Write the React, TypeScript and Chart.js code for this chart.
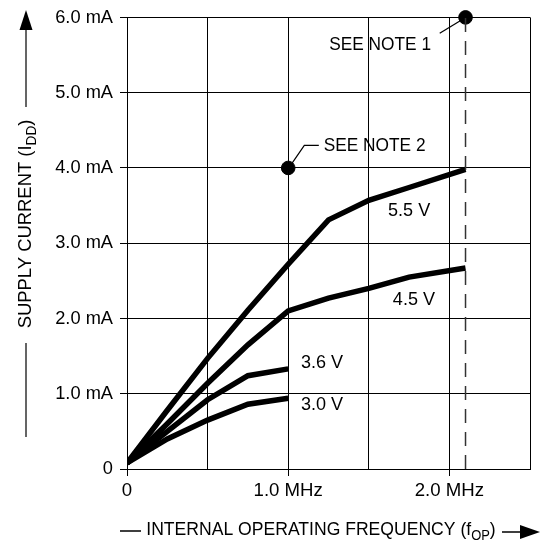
import React, { useEffect, useRef } from "react";
import { Chart, registerables } from "chart.js";

Chart.register(...registerables);

const FONT = "'Liberation Sans', Arial, sans-serif";

// Axis ticks
const xTickValues = [0, 0.5, 1.0, 1.5, 2.0, 2.5];
const xTickLabels = ["0", "", "1.0 MHz", "", "2.0 MHz", ""];
const yTickValues = [0, 1, 2, 3, 4, 5, 6];
const yTickLabels = ["0", "1.0 mA", "2.0 mA", "3.0 mA", "4.0 mA", "5.0 mA", "6.0 mA"];

// Series (frequency in MHz, current in mA)
const freq55 = [0, 0.25, 0.5, 0.75, 1.0, 1.25, 1.5, 1.75, 2.1];
const curr55 = [0.08, 0.78, 1.47, 2.11, 2.72, 3.31, 3.57, 3.74, 3.98];
const freq45 = [0, 0.25, 0.5, 0.75, 1.0, 1.25, 1.5, 1.75, 2.1];
const curr45 = [0.08, 0.6, 1.14, 1.65, 2.1, 2.27, 2.4, 2.55, 2.67];
const freq36 = [0, 0.25, 0.5, 0.75, 1.0];
const curr36 = [0.08, 0.5, 0.92, 1.24, 1.33];
const freq30 = [0, 0.25, 0.5, 0.75, 1.0];
const curr30 = [0.08, 0.4, 0.65, 0.86, 0.94];

// Notes markers
const noteFreq = [1.0, 2.1];
const noteCurr = [4.0, 6.0];
const maxFreqLine = 2.1;

// Curve labels (text, x MHz, y mA)
const curveLabelText = ["5.5 V", "4.5 V", "3.6 V", "3.0 V"];
const curveLabelX = [1.75, 1.78, 1.21, 1.21];
const curveLabelY = [3.43, 2.25, 1.41, 0.85];

const pts = (xs: number[], ys: number[]) => xs.map((x, i) => ({ x, y: ys[i] }));

const drawSubText = (
  ctx: CanvasRenderingContext2D,
  parts: { t: string; sub?: boolean }[],
  size: number,
  cx: number,
  cy: number,
  sx: number
) => {
  const subSize = Math.round(size * 0.72);
  let total = 0;
  const widths = parts.map((p) => {
    ctx.font = `${p.sub ? subSize : size}px ${FONT}`;
    const w = ctx.measureText(p.t).width;
    total += w;
    return w;
  });
  ctx.save();
  ctx.translate(cx, cy);
  ctx.scale(sx, 1);
  let x = -total / 2;
  ctx.textBaseline = "middle";
  ctx.textAlign = "left";
  parts.forEach((p, i) => {
    ctx.font = `${p.sub ? subSize : size}px ${FONT}`;
    ctx.fillText(p.t, x, p.sub ? size * 0.3 : 0);
    x += widths[i];
  });
  ctx.restore();
};

const scaledText = (
  ctx: CanvasRenderingContext2D,
  t: string,
  x: number,
  y: number,
  align: CanvasTextAlign,
  sx: number
) => {
  ctx.save();
  ctx.translate(x, y);
  ctx.scale(sx, 1);
  ctx.textAlign = align;
  ctx.textBaseline = "middle";
  ctx.fillText(t, 0, 0);
  ctx.restore();
};

const decorPlugin = {
  id: "decor",
  afterDatasetsDraw(chart: any) {
    const ctx: CanvasRenderingContext2D = chart.ctx;
    const xs = chart.scales.x;
    const ys = chart.scales.y;
    ctx.save();
    ctx.fillStyle = "#000";
    ctx.strokeStyle = "#000";

    // tick labels
    ctx.font = `19px ${FONT}`;
    yTickValues.forEach((v, i) => {
      scaledText(ctx, yTickLabels[i], xs.left - 14, ys.getPixelForValue(v), "right", 0.96);
    });
    xTickValues.forEach((v, i) => {
      if (xTickLabels[i]) scaledText(ctx, xTickLabels[i], xs.getPixelForValue(v), ys.bottom + 22, "center", 0.98);
    });

    // curve labels
    curveLabelText.forEach((t, i) => {
      scaledText(ctx, t, xs.getPixelForValue(curveLabelX[i]), ys.getPixelForValue(curveLabelY[i]), "center", 0.95);
    });

    // SEE NOTE 1
    scaledText(ctx, "SEE NOTE 1", xs.getPixelForValue(1.57), ys.getPixelForValue(5.64), "center", 0.91);
    ctx.lineWidth = 1.2;
    ctx.beginPath();
    ctx.moveTo(xs.getPixelForValue(1.94), ys.getPixelForValue(5.79));
    ctx.lineTo(xs.getPixelForValue(2.07), ys.getPixelForValue(5.96));
    ctx.stroke();

    // SEE NOTE 2
    scaledText(ctx, "SEE NOTE 2", xs.getPixelForValue(1.22), ys.getPixelForValue(4.3), "left", 0.91);
    ctx.beginPath();
    ctx.moveTo(xs.getPixelForValue(1.02), ys.getPixelForValue(4.05));
    ctx.lineTo(xs.getPixelForValue(1.1), ys.getPixelForValue(4.3));
    ctx.lineTo(xs.getPixelForValue(1.19), ys.getPixelForValue(4.3));
    ctx.stroke();

    // Y axis title (rotated)
    ctx.save();
    ctx.translate(26, 224);
    ctx.rotate(-Math.PI / 2);
    drawSubText(ctx, [{ t: "SUPPLY CURRENT (I" }, { t: "DD", sub: true }, { t: ")" }], 19, 0, 0, 0.97);
    ctx.restore();
    ctx.strokeStyle = "#333";
    ctx.lineWidth = 1.5;
    ctx.beginPath();
    ctx.moveTo(26, 107);
    ctx.lineTo(26, 28);
    ctx.moveTo(26, 343);
    ctx.lineTo(26, 437);
    ctx.stroke();
    ctx.fillStyle = "#000";
    ctx.beginPath();
    ctx.moveTo(26, 10);
    ctx.lineTo(19.5, 30);
    ctx.lineTo(32.5, 30);
    ctx.closePath();
    ctx.fill();

    // X axis title
    drawSubText(
      ctx,
      [{ t: "INTERNAL OPERATING FREQUENCY (f" }, { t: "OP", sub: true }, { t: ")" }],
      19,
      321,
      530,
      0.925
    );
    ctx.strokeStyle = "#000";
    ctx.lineWidth = 1.3;
    ctx.beginPath();
    ctx.moveTo(120, 531);
    ctx.lineTo(141, 531);
    ctx.moveTo(502, 532);
    ctx.lineTo(522, 532);
    ctx.stroke();
    ctx.beginPath();
    ctx.moveTo(540, 532);
    ctx.lineTo(520, 525);
    ctx.lineTo(520, 539);
    ctx.closePath();
    ctx.fill();

    ctx.restore();
  },
};

export default function App() {
  const ref = useRef<HTMLCanvasElement | null>(null);
  useEffect(() => {
    if (!ref.current) return;
    const lineDs = (xs: number[], ys: number[]) => ({
      data: pts(xs, ys),
      borderColor: "#000",
      backgroundColor: "#000",
      borderWidth: 5.5,
      pointRadius: 0,
      borderJoinStyle: "miter" as const,
      borderCapStyle: "butt" as const,
      tension: 0,
    });
    const chart = new Chart(ref.current, {
      type: "line",
      data: {
        datasets: [
          {
            data: [
              { x: maxFreqLine, y: 0 },
              { x: maxFreqLine, y: 6 },
            ],
            borderColor: "#333",
            borderWidth: 1.5,
            borderDash: [14, 9],
            pointRadius: 0,
          } as any,
          lineDs(freq55, curr55),
          lineDs(freq45, curr45),
          lineDs(freq36, curr36),
          lineDs(freq30, curr30),
          {
            data: pts(noteFreq, noteCurr),
            showLine: false,
            pointRadius: 6.8,
            pointBackgroundColor: "#000",
            pointBorderColor: "#000",
            pointBorderWidth: 1,
            clip: false,
          } as any,
        ],
      },
      options: {
        responsive: false,
        animation: false,
        layout: { padding: { top: 16, right: 10, left: 0, bottom: 0 } },
        plugins: { legend: { display: false }, tooltip: { enabled: false } },
        scales: {
          x: {
            type: "linear",
            min: 0,
            max: 2.5,
            afterBuildTicks: (s: any) => {
              s.ticks = xTickValues.map((v) => ({ value: v }));
            },
            afterFit: (s: any) => {
              s.height = 79;
            },
            ticks: {
              autoSkip: false,
              maxRotation: 0,
              color: "rgba(0,0,0,0)",
              padding: 4,
              font: { family: FONT, size: 19 },
              callback: (_v: any, i: number) => xTickLabels[i],
            },
            grid: {
              color: "#000",
              lineWidth: 1,
              tickLength: 7,
              tickColor: (c: any) => (xTickLabels[c.index] ? "#000" : "rgba(0,0,0,0)"),
            },
            border: { color: "#000", width: 1 },
          },
          y: {
            type: "linear",
            min: 0,
            max: 6,
            afterBuildTicks: (s: any) => {
              s.ticks = yTickValues.map((v) => ({ value: v }));
            },
            afterFit: (s: any) => {
              s.width = 127;
            },
            ticks: {
              autoSkip: false,
              color: "rgba(0,0,0,0)",
              padding: 6,
              font: { family: FONT, size: 19 },
              callback: (_v: any, i: number) => yTickLabels[i],
            },
            grid: { color: "#000", lineWidth: 1, tickLength: 7, tickColor: "#000" },
            border: { color: "#000", width: 1 },
          },
        },
      } as any,
      plugins: [decorPlugin],
    });
    return () => chart.destroy();
  }, []);
  return (
    <div style={{ position: "fixed", left: 0, top: 0, width: 540, height: 548, background: "#fff" }}>
      <canvas ref={ref} width={540} height={548} style={{ display: "block" }} />
    </div>
  );
}
